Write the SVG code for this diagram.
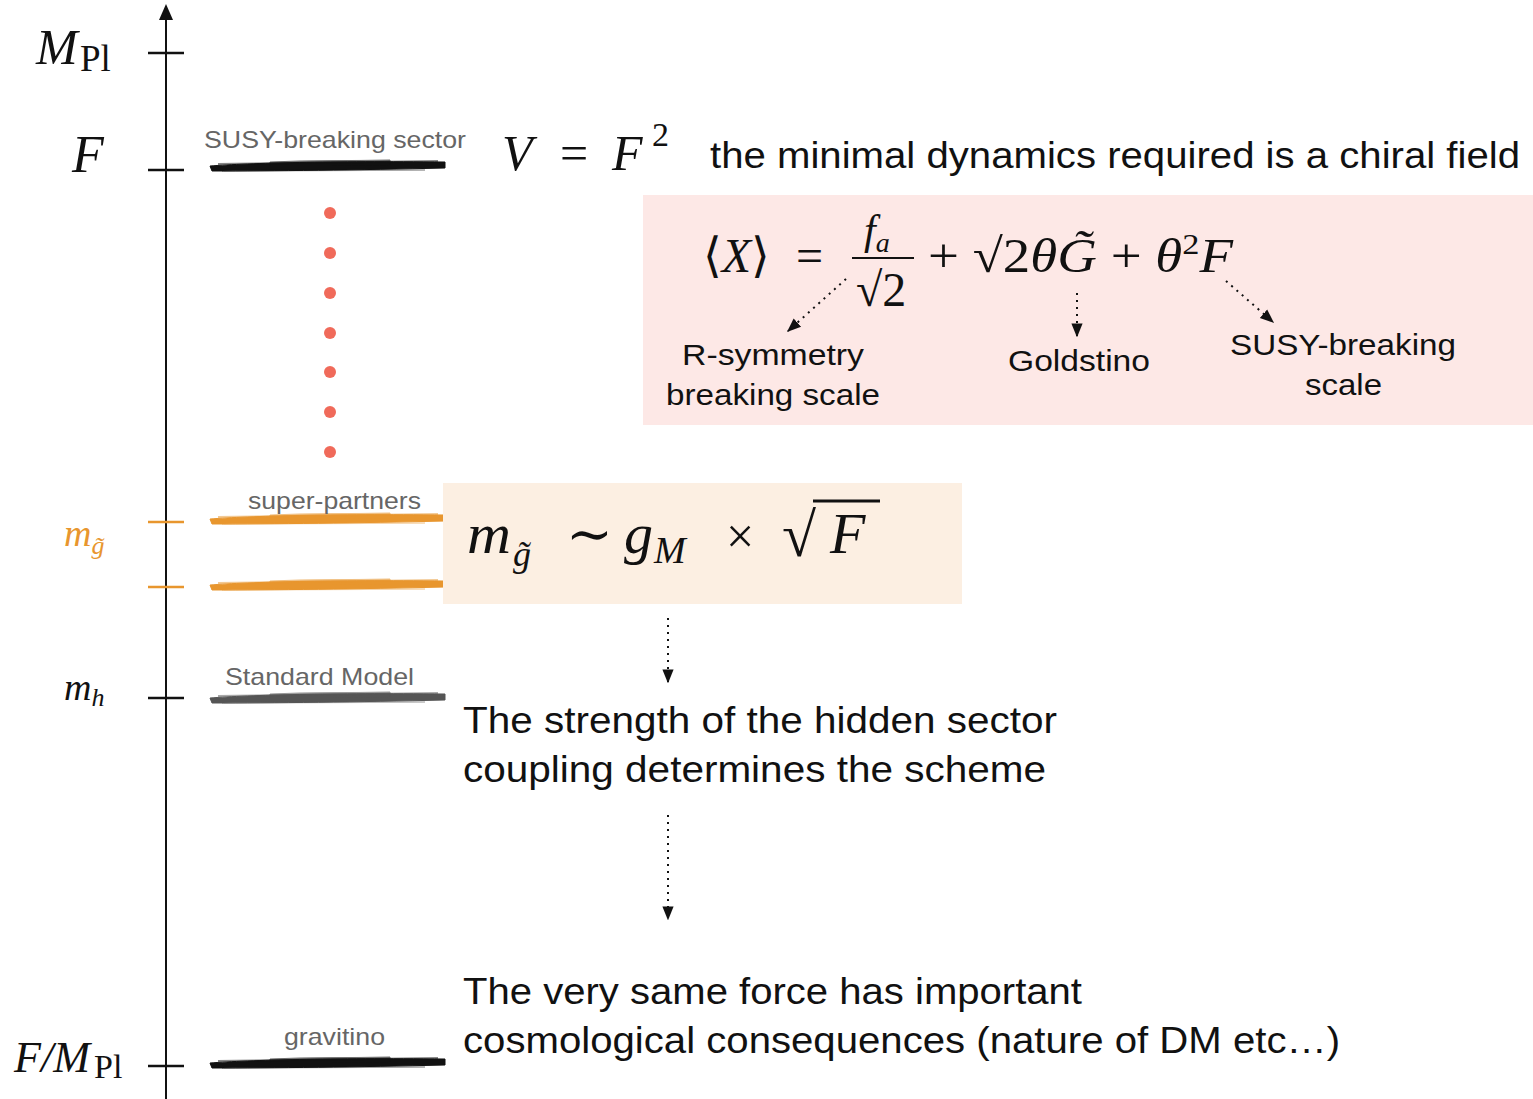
<svg xmlns="http://www.w3.org/2000/svg" width="1533" height="1099" viewBox="0 0 1533 1099">
<style>
.math{font-family:"Liberation Serif","DejaVu Serif",serif;font-style:italic;fill:#111}
.rm{font-family:"Liberation Serif","DejaVu Serif",serif;font-style:normal;fill:#111}
.sans{font-family:"Liberation Sans",Arial,sans-serif;fill:#111}
.lbl{font-family:"Liberation Sans",Arial,sans-serif;fill:#666;font-size:24px}
.tick{stroke:#111;stroke-width:2.5}
.otick{stroke:#e8962e;stroke-width:2.5}
.dot{fill:#f06a5a}
.dash{stroke:#111;stroke-width:2;stroke-dasharray:2 5;fill:none}
</style>
<defs>
<marker id="ah2" viewBox="0 0 10 10" refX="9" refY="5" markerWidth="14" markerHeight="14" orient="auto" markerUnits="userSpaceOnUse">
<path d="M0,1 L10,5 L0,9 z" fill="#111"/>
</marker>
<g id="brush">
<path d="M0,-1 C40,-4 120,-6 235,-5 L235,1 C150,3 60,4 2,4 Z"/>
<path d="M8,-3 L228,-6" stroke-width="2" opacity="0.5"/>
<path d="M12,4 L215,3" stroke-width="1.5" opacity="0.4"/>
<path d="M60,-5 C100,-7 140,-6 180,-7 L180,-2 C140,-1 100,-1 60,-1 Z" opacity="0.6"/>
</g>
</defs>

<g id="axis">
<line x1="166" y1="1099" x2="166" y2="18" stroke="#111" stroke-width="2"/>
<path d="M159,20 L166,4 L173,20 Z" fill="#111"/>
<line class="tick" x1="148" y1="53" x2="184" y2="53"/>
<line class="tick" x1="148" y1="170" x2="184" y2="170"/>
<line class="otick" x1="148" y1="522" x2="184" y2="522"/>
<line class="otick" x1="148" y1="587" x2="184" y2="587"/>
<line class="tick" x1="148" y1="698" x2="184" y2="698"/>
<line class="tick" x1="148" y1="1066" x2="184" y2="1066"/>
</g>

<g id="axis-labels">
<text x="36" y="64" class="math" font-size="50">M</text>
<text x="80" y="71" class="rm" font-size="37">Pl</text>
<text x="72" y="172" class="math" font-size="52">F</text>
<text x="64" y="546" class="math" font-size="38" style="fill:#e8962e">m<tspan font-size="26" dy="8">g̃</tspan></text>
<text x="64" y="700" class="math" font-size="38">m<tspan font-size="26" dy="6">h</tspan></text>
<text x="14" y="1072" class="math" font-size="44" textLength="76" lengthAdjust="spacingAndGlyphs">F/M</text>
<text x="94" y="1078" class="rm" font-size="34">Pl</text>
</g>

<g id="level-susy">
<use href="#brush" x="210" y="167" fill="#111" stroke="#111"/>
<text x="204" y="148" class="lbl" textLength="262" lengthAdjust="spacingAndGlyphs">SUSY-breaking sector</text>
</g>
<g id="level-superpartners">
<use href="#brush" x="210" y="520" fill="#e8962e" stroke="#e8962e"/>
<use href="#brush" x="210" y="586" fill="#e8962e" stroke="#e8962e"/>
<text x="248" y="509" class="lbl" textLength="173" lengthAdjust="spacingAndGlyphs">super-partners</text>
</g>
<g id="level-sm">
<use href="#brush" x="210" y="699" fill="#555" stroke="#555"/>
<text x="225" y="685" class="lbl" textLength="189" lengthAdjust="spacingAndGlyphs">Standard Model</text>
</g>
<g id="level-gravitino">
<use href="#brush" x="210" y="1064" fill="#111" stroke="#111"/>
<text x="284" y="1045" class="lbl" textLength="101" lengthAdjust="spacingAndGlyphs">gravitino</text>
</g>

<g id="dots">
<circle class="dot" cx="330" cy="213" r="6"/>
<circle class="dot" cx="330" cy="253" r="6"/>
<circle class="dot" cx="330" cy="293" r="6"/>
<circle class="dot" cx="330" cy="333" r="6"/>
<circle class="dot" cx="330" cy="372" r="6"/>
<circle class="dot" cx="330" cy="412" r="6"/>
<circle class="dot" cx="330" cy="452" r="6"/>
</g>

<g id="potential">
<text x="502" y="170" class="math" font-size="50">V</text>
<text x="560" y="170" class="rm" font-size="50">=</text>
<text x="612" y="170" class="math" font-size="50">F</text>
<text x="652" y="146" class="rm" font-size="34">2</text>
<text x="710" y="168" class="sans" font-size="37" textLength="810" lengthAdjust="spacingAndGlyphs">the minimal dynamics required is a chiral field</text>
</g>

<g id="superfield-box">
<rect x="643" y="195" width="890" height="230" fill="#fde8e6"/>
<text x="703" y="272" class="rm" font-size="48">⟨<tspan class="math">X</tspan>⟩</text>
<text x="796" y="272" class="rm" font-size="48">=</text>
<text x="864" y="244" class="math" font-size="42">f<tspan font-size="28" dy="8">a</tspan></text>
<line x1="852" y1="258" x2="914" y2="258" stroke="#111" stroke-width="2"/>
<text x="856" y="306" class="rm" font-size="48">√2</text>
<text x="928" y="272" class="rm" font-size="48" textLength="305" lengthAdjust="spacingAndGlyphs">+ √2<tspan class="math">θG̃</tspan> + <tspan class="math">θ</tspan><tspan font-size="30" dy="-18">2</tspan><tspan class="math" dy="18">F</tspan></text>
<text x="682" y="365" class="sans" font-size="30" textLength="182" lengthAdjust="spacingAndGlyphs">R-symmetry</text>
<text x="666" y="405" class="sans" font-size="30" textLength="214" lengthAdjust="spacingAndGlyphs">breaking scale</text>
<text x="1008" y="371" class="sans" font-size="30" textLength="142" lengthAdjust="spacingAndGlyphs">Goldstino</text>
<text x="1230" y="355" class="sans" font-size="30" textLength="226" lengthAdjust="spacingAndGlyphs">SUSY-breaking</text>
<text x="1305" y="395" class="sans" font-size="30" textLength="77" lengthAdjust="spacingAndGlyphs">scale</text>
</g>

<g id="mass-box">
<rect x="443" y="483" width="519" height="121" fill="#fcefe2"/>
<text x="467" y="553" class="math" font-size="58" textLength="44" lengthAdjust="spacingAndGlyphs">m</text>
<text x="513" y="566" class="math" font-size="36">g̃</text>
<text x="566" y="553" class="rm" font-size="56">∼</text>
<text x="624" y="553" class="math" font-size="58">g</text>
<text x="654" y="563" class="math" font-size="38">M</text>
<text x="726" y="553" class="rm" font-size="50">×</text>
<text x="782" y="556" class="rm" font-size="62">√</text>
<line x1="813" y1="501" x2="880" y2="501" stroke="#111" stroke-width="3"/>
<text x="830" y="553" class="math" font-size="58">F</text>
</g>

<g id="texts">
<text x="463" y="733" class="sans" font-size="37" textLength="594" lengthAdjust="spacingAndGlyphs">The strength of the hidden sector</text>
<text x="463" y="782" class="sans" font-size="37" textLength="583" lengthAdjust="spacingAndGlyphs">coupling determines the scheme</text>
<text x="463" y="1004" class="sans" font-size="37" textLength="619" lengthAdjust="spacingAndGlyphs">The very same force has important</text>
<text x="463" y="1053" class="sans" font-size="37" textLength="877" lengthAdjust="spacingAndGlyphs">cosmological consequences (nature of DM etc…)</text>
</g>

<g id="connectors">
<line class="dash" x1="846" y1="279" x2="788" y2="331" marker-end="url(#ah2)"/>
<line class="dash" x1="1077" y1="293" x2="1077" y2="336" marker-end="url(#ah2)"/>
<line class="dash" x1="1226" y1="281" x2="1273" y2="322" marker-end="url(#ah2)"/>
<line class="dash" x1="668" y1="618" x2="668" y2="682" marker-end="url(#ah2)"/>
<line class="dash" x1="668" y1="815" x2="668" y2="919" marker-end="url(#ah2)"/>
</g>
</svg>
